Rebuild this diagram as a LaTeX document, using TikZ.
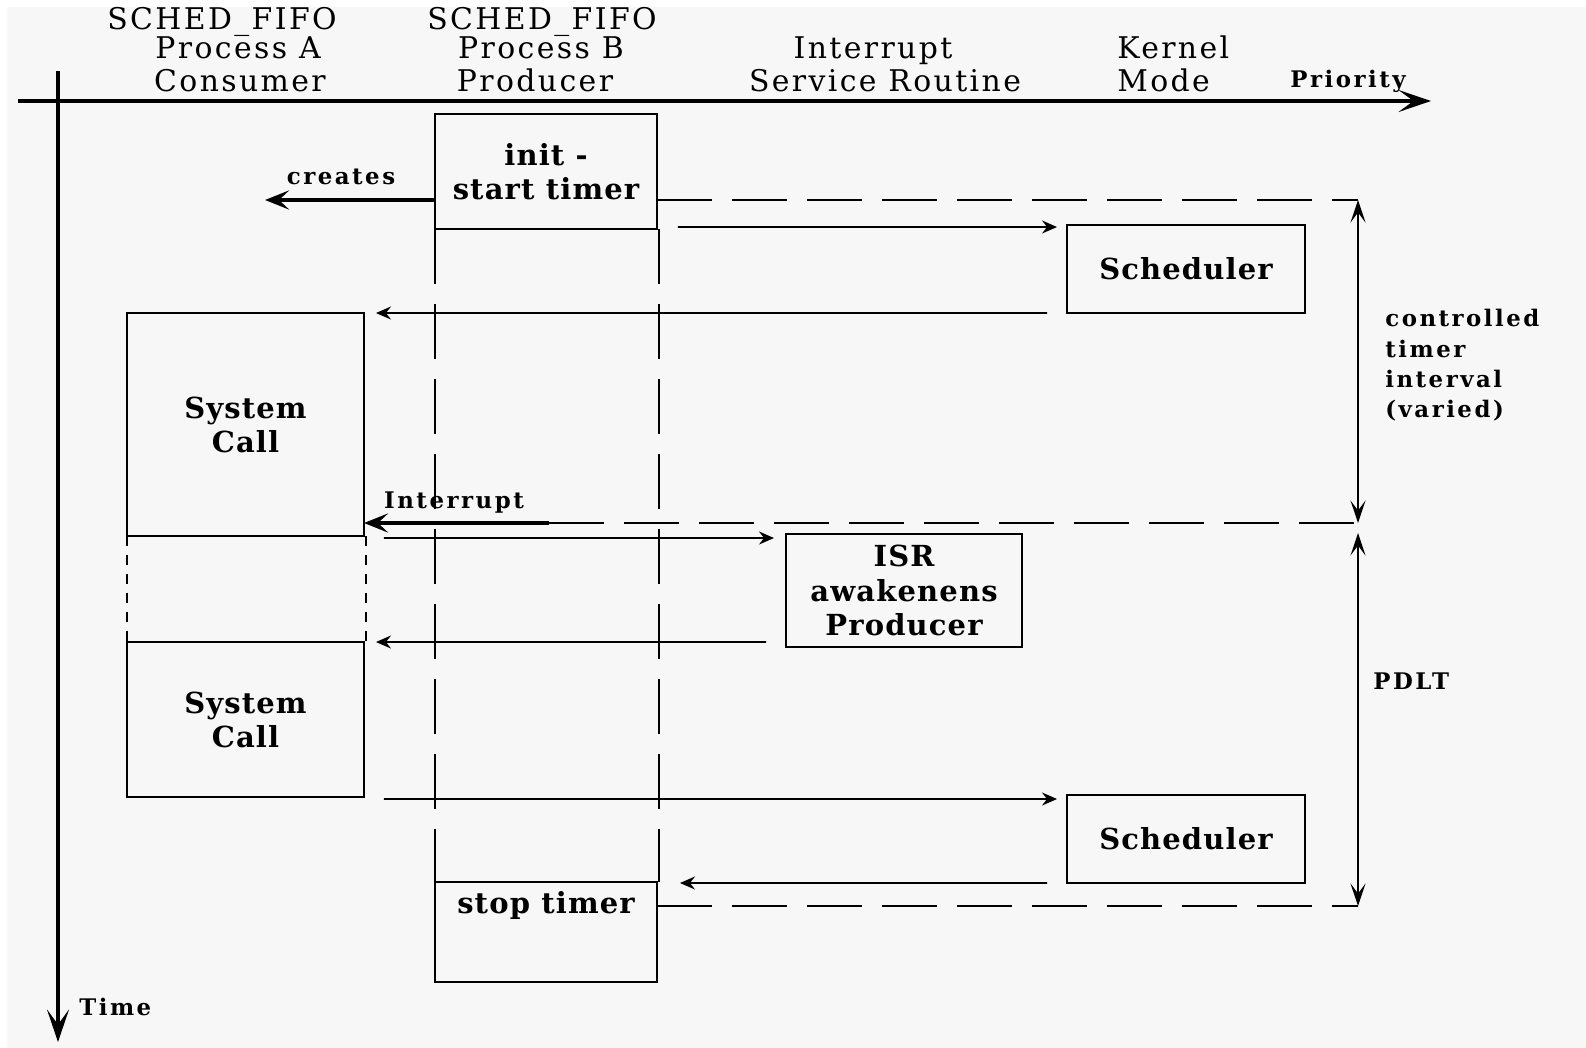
\documentclass[tikz,border=0pt]{standalone}
\usepackage{fontspec}
\setmainfont{DejaVu Serif}
\newfontfamily\hdfont{DejaVu Serif}[LetterSpace=8]
\newfontfamily\bxfont{DejaVu Serif}[LetterSpace=4]
\newfontfamily\lbfont{DejaVu Serif}[LetterSpace=11]
\usetikzlibrary{arrows.meta,calc}
\definecolor{paper}{HTML}{F7F7F7}

\begin{document}
\begin{tikzpicture}[x=0.02cm, y=-0.02cm,
      hd/.style={anchor=base, inner sep=0pt, font=\hdfont\fontsize{17}{20}\selectfont},
      bx/.style={draw, line width=1.15pt, inner sep=0pt, outer sep=0pt, align=center,
                 font=\bxfont\bfseries\fontsize{16.5}{19.4}\selectfont},
      lb/.style={inner sep=0pt, font=\lbfont\bfseries\fontsize{13}{17.3}\selectfont},
      ar/.style={-{Stealth[length=0.3cm,width=0.26cm,inset=0.1cm]}, line width=0.9pt},
      tk/.style={-{Stealth[length=0.48cm,width=0.38cm,inset=0.2cm]}, line width=2.2pt},
      ax/.style={-{Stealth[length=0.65cm,width=0.44cm,inset=0.3cm]}, line width=2pt},
      iv/.style={{Stealth[length=0.45cm,width=0.3cm,inset=0.2cm]}-{Stealth[length=0.45cm,width=0.3cm,inset=0.2cm]},
                 line width=1.1pt},
      ld/.style={line width=0.9pt, dash pattern=on 1.1cm off 0.4cm},
      dt/.style={line width=0.9pt, dash pattern=on 0.2cm off 0.18cm}]
    \useasboundingbox (0,0) rectangle (1586,1048);
    \fill[white] (0,0) rectangle (1586,1048);
    \fill[paper] (7,7) rectangle (1586,1048);

    % axes
    \coordinate (o1) at (18,101);  \coordinate (pri) at (1431,101);
    \coordinate (o2) at (58,71);   \coordinate (tim) at (58,1042);
    \draw[ax] (o1) -- (pri);
    \draw[ax] (o2) -- (tim);
    \node[lb, anchor=base] (pr) at (1348,87) {Priority};
    \node[lb, anchor=base west] (tm) at (79,1015) {Time};

    % column headers
    \node[hd] (fa) at (222,30) {SCHED\_FIFO};
    \node[hd] (pa) at (238,58) {Process A};
    \node[hd] (ca) at (240,91) {Consumer};
    \node[hd] (fb) at (542,30) {SCHED\_FIFO};
    \node[hd] (pb) at (541,58) {Process B};
    \node[hd] (cb) at (535,91) {Producer};
    \node[hd] (ia) at (873,58) {Interrupt};
    \node[hd] (ib) at (885,91) {Service Routine};
    \node[hd, anchor=base west] (ka) at (1117,58) {Kernel};
    \node[hd, anchor=base west] (kb) at (1117,91) {Mode};

    % boxes
    \node[bx, minimum width=4.44cm, minimum height=2.3cm] (ini) at (546,171.5) {init -\\start timer};
    \node[bx, minimum width=4.76cm, minimum height=1.76cm] (sch1) at (1186,269) {Scheduler};
    \node[bx, minimum width=4.74cm, minimum height=4.46cm] (sys1) at (245.5,424.5) {System\\Call};
    \node[bx, minimum width=4.72cm, minimum height=2.26cm] (isr) at (904,590.5) {ISR\\awakenens\\Producer};
    \node[bx, minimum width=4.74cm, minimum height=3.1cm] (sys2) at (245.5,719.5) {System\\Call};
    \node[bx, minimum width=4.76cm, minimum height=1.76cm] (sch2) at (1186,839) {Scheduler};
    \node[bx, anchor=north, minimum width=4.44cm, inner ysep=0.2cm, text height=0.42cm,
          text depth=1.18cm] (stop) at (546,882) {stop timer};

    % producer lifeline and idle gap of the consumer
    \draw[ld] (ini.south west) -- (stop.north west);
    \draw[ld] ([xshift=0.04cm]ini.south east) -- ([xshift=0.04cm]stop.north east);
    \draw[dt] (sys1.south west) -- (sys2.north west);
    \draw[dt] ([xshift=0.04cm]sys1.south east) -- ([xshift=0.04cm]sys2.north east);

    % timer marks
    \coordinate (t0) at (1358,200);
    \coordinate (t1) at (1358,523);
    \coordinate (t2) at (1358,906);
    \coordinate (irq) at (549,523);
    \coordinate (cr) at (265,200);
    \draw[ld] (ini.east |- t0) -- (t0);
    \draw[ld] (irq) -- (t1);
    \draw[ld] (stop.east |- t2) -- (t2);
    \draw[iv] (t0) -- (t1);
    \draw[iv] ($(t1)+(0,10)$) -- (t2);

    % thick arrows
    \draw[tk] (ini.west |- t0) -- (cr);
    \node[lb, anchor=base] (crl) at (341,184) {creates};
    \draw[tk] (irq) -- (sys1.east |- irq);
    \node[lb, anchor=base] (irl) at (454,508) {Interrupt};

    % control flow
    \draw[ar] ($(ini.south east)+(21,-2)$) -- ($(sch1.north west)+(-10,2)$);
    \draw[ar] ($(sch1.south west)+(-20,0)$) -- ($(sys1.north east)+(12,0)$);
    \draw[ar] ($(sys1.south east)+(20,2)$) -- ($(isr.north west)+(-12,4)$);
    \draw[ar] ($(isr.south west)+(-20,-5)$) -- ($(sys2.north east)+(12,0)$);
    \draw[ar] ($(sys2.south east)+(20,2)$) -- ($(sch2.north west)+(-10,4)$);
    \draw[ar] ($(sch2.south west)+(-20,0)$) -- ($(stop.north east)+(23,1)$);

    \node[lb, anchor=north west, align=left] (ctl) at (1385,309) {controlled\\timer\\interval\\(varied)};
    \node[lb, anchor=west] (pd) at (1373,681) {PDLT};
  \end{tikzpicture}
\end{document}
